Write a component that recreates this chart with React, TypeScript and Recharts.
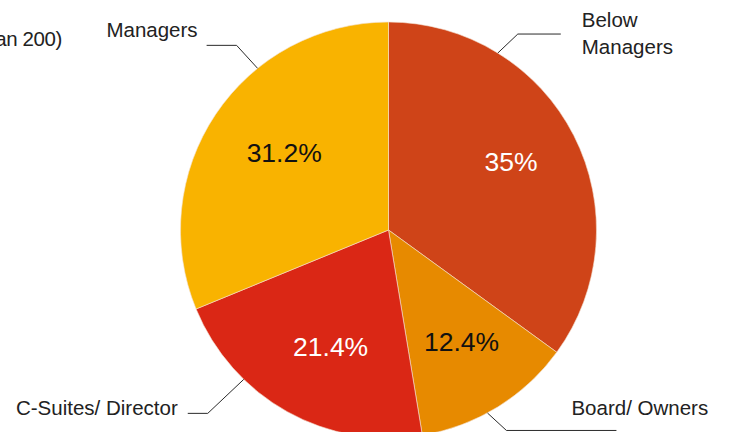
import React from 'react';
import { PieChart, Pie, Cell } from 'recharts';

const categories = ['Below Managers', 'Board/ Owners', 'C-Suites/ Director', 'Managers'];
const shares = [35, 12.4, 21.4, 31.2];
const shareLabels = ['35%', '12.4%', '21.4%', '31.2%'];

const sliceColors = ['#CF4418', '#E78A00', '#DA2715', '#F9B300'];
const valueColors = ['#ffffff', '#111111', '#ffffff', '#111111'];

const data = categories.map((name, i) => ({ name, value: shares[i] }));

// callout layout per slice: edge angle (clockwise from 12 o'clock), elbow offset, horizontal run,
// text placement (relative to elbow or line end), and a small nudge for the inner value label
const callouts = [
  { angle: 31.7, ex: 20, ey: -19, run: 43, from: 'end', anchor: 'start', tx: 21, ty: [-15, 12], lines: ['Below', 'Managers'], nudge: [2, -7] },
  { angle: 151.6, ex: 19, ey: 17.5, run: 110, from: 'elbow', anchor: 'start', tx: 65, ty: [-23], lines: ['Board/ Owners'], nudge: [2, -3] },
  { angle: 224.1, ex: -36, ey: 34, run: -20, from: 'end', anchor: 'end', tx: -10, ty: [-6], lines: ['C-Suites/ Director'], nudge: [8, -1] },
  { angle: 321, ex: -21, ey: -23, run: -30, from: 'end', anchor: 'end', tx: -9, ty: [-16], lines: ['Managers'], nudge: [8, -2] },
];

const RADIAN = Math.PI / 180;
const FONT = '"Liberation Sans", Arial, sans-serif';

const renderLabel = (props: any) => {
  const { cx, cy, midAngle, outerRadius, index } = props;
  const c = callouts[index];
  const r = outerRadius * 0.65;
  const x = cx + r * Math.cos(-midAngle * RADIAN) + c.nudge[0];
  const y = cy + r * Math.sin(-midAngle * RADIAN) + c.nudge[1];

  const sx = cx + outerRadius * Math.sin(c.angle * RADIAN);
  const sy = cy - outerRadius * Math.cos(c.angle * RADIAN);
  const mx = sx + c.ex;
  const my = sy + c.ey;
  const endX = mx + c.run;
  const textX = (c.from === 'end' ? endX : mx) + c.tx;

  return (
    <g>
      <text x={x} y={y} fill={valueColors[index]} fontSize={26.5} fontFamily={FONT} textAnchor="middle" dominantBaseline="central">
        {shareLabels[index]}
      </text>
      <polyline points={`${sx},${sy} ${mx},${my} ${endX},${my}`} fill="none" stroke="#2a2a2a" strokeWidth={1} />
      {c.lines.map((line, i) => (
        <text key={i} x={textX} y={my + c.ty[i]} fill="#222" fontSize={20.5} fontFamily={FONT} textAnchor={c.anchor as any} dominantBaseline="central">
          {line}
        </text>
      ))}
    </g>
  );
};

export default function App() {
  return (
    <div style={{ width: 729, height: 432, background: '#fff', overflow: 'hidden' }}>
      <style>{'body { margin: 0; }'}</style>
      <PieChart width={729} height={432} margin={{ top: 0, right: 0, bottom: 0, left: 0 }}>
        <text x={62} y={38} textAnchor="end" dominantBaseline="central" fontSize={20.5} fontFamily={FONT} fill="#222" letterSpacing={-0.4}>
          Company Size (more than 200)
        </text>
        <Pie
          data={data}
          dataKey="value"
          nameKey="name"
          cx={388.5}
          cy={230}
          outerRadius={208}
          startAngle={90}
          endAngle={-270}
          stroke="#f3e3d3"
          strokeWidth={0.6}
          label={renderLabel}
          labelLine={false}
          isAnimationActive={false}
        >
          {data.map((d, i) => (
            <Cell key={d.name} fill={sliceColors[i]} />
          ))}
        </Pie>
      </PieChart>
    </div>
  );
}
